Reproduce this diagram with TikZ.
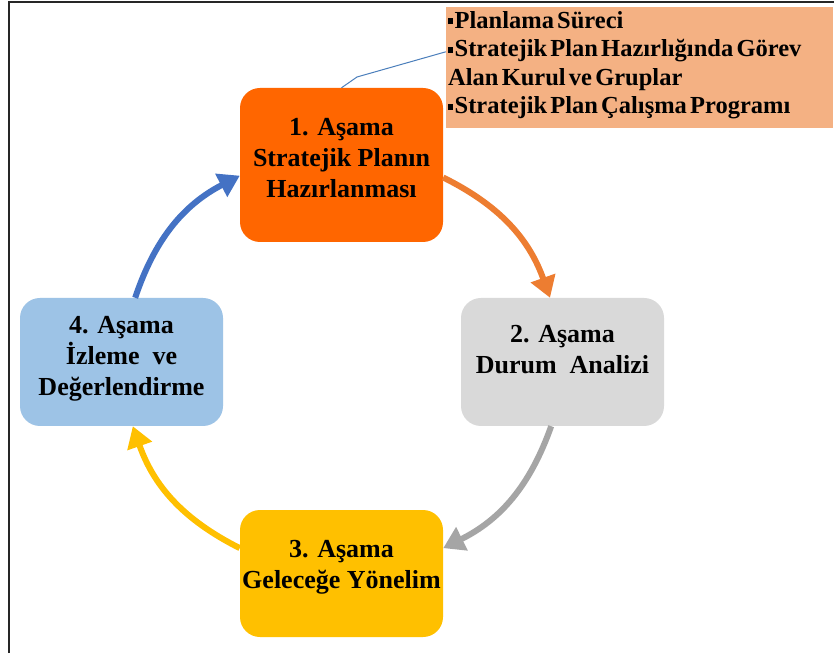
\documentclass[tikz,border=0pt]{standalone}
\usepackage{fontspec}
\setmainfont{Liberation Serif}
\usetikzlibrary{arrows.meta,calc}
\definecolor{cOne}{HTML}{FF6600}
\definecolor{cTwo}{HTML}{D9D9D9}
\definecolor{cThree}{HTML}{FFC000}
\definecolor{cFour}{HTML}{9DC3E6}
\definecolor{cCall}{HTML}{F4B183}
\definecolor{aOne}{HTML}{ED7D31}
\definecolor{aTwo}{HTML}{A5A5A5}
\definecolor{aFour}{HTML}{4472C4}
\definecolor{cLine}{HTML}{4A7EBB}
\newcommand\mybul{\raisebox{4pt}{\rule{5pt}{6pt}}\hspace{1.5pt}}
\begin{document}
\begin{tikzpicture}[x=1pt,y=1pt,
  stagebox/.style={draw=none, rounded corners=20pt, minimum width=203pt, inner sep=0pt},
  stagetext/.style={align=center, inner sep=0pt, text=black,
    font={\fontsize{26}{31}\selectfont\bfseries}},
  calltext/.style={align=left, inner sep=0pt, text=black,
    font={\fontsize{24.5}{28.5}\selectfont\bfseries\spaceskip=0.13em plus 0.05em\relax}},
  cyc/.style={line width=6pt, -{Triangle[width=25pt,length=21pt]}}
]
\useasboundingbox (0,0) rectangle (834,653);
\fill[white] (0,0) rectangle (834,653);
% frame
\draw[line width=2pt, black!85] (9,0) -- (9,651) -- (834,651);

% callout box
\node[fill=cCall, minimum width=387pt, minimum height=121pt, inner sep=0pt] (co) at (639.5,585.5) {};
\node[calltext, anchor=north west] (ct) at (448,642)
  {\mybul Planlama Süreci\\\mybul Stratejik Plan Hazırlığında Görev\\Alan Kurul ve Gruplar\\\mybul Stratejik Plan Çalışma Programı};

% stage boxes
\node[stagebox, fill=cOne, minimum height=154pt] (b1) at (341.5,488) {};
\node[stagebox, fill=cTwo, minimum height=128pt] (b2) at (562.5,291) {};
\node[stagebox, fill=cThree, minimum height=127pt] (b3) at (341.5,79.5) {};
\node[stagebox, fill=cFour, minimum height=128pt] (b4) at (121.5,291) {};

\node[stagetext] (t1) at (341.5,494.5) {1. Aşama\\Stratejik Planın\\Hazırlanması};
\node[stagetext] (t2) at (562.5,303) {2. Aşama\\Durum\ \ Analizi};
\node[stagetext] (t3) at (341.5,85.5) {3. Aşama\\Geleceğe Yönelim};
\node[stagetext] (t4) at (121.5,294) {4. Aşama\\İzleme\ \ ve\\Değerlendirme};

% callout connector
\coordinate (k) at (357,576);
\coordinate (ce) at ($(co.north west)+(0,-45)$);
\draw[line width=1pt, cLine] (b1.north) -- (k) -- (ce);

% cycle arrows
\draw[cyc, aOne] (b1.-7) to[bend left=22] (b2.101);
\draw[cyc, aTwo] (b2.-100) to[bend left=22] (b3.14);
\draw[cyc, cThree] (b3.166) to[bend left=22] (b4.-80);
\draw[cyc, aFour] (b4.78) to[bend left=22] (b1.186);
\end{tikzpicture}
\end{document}
